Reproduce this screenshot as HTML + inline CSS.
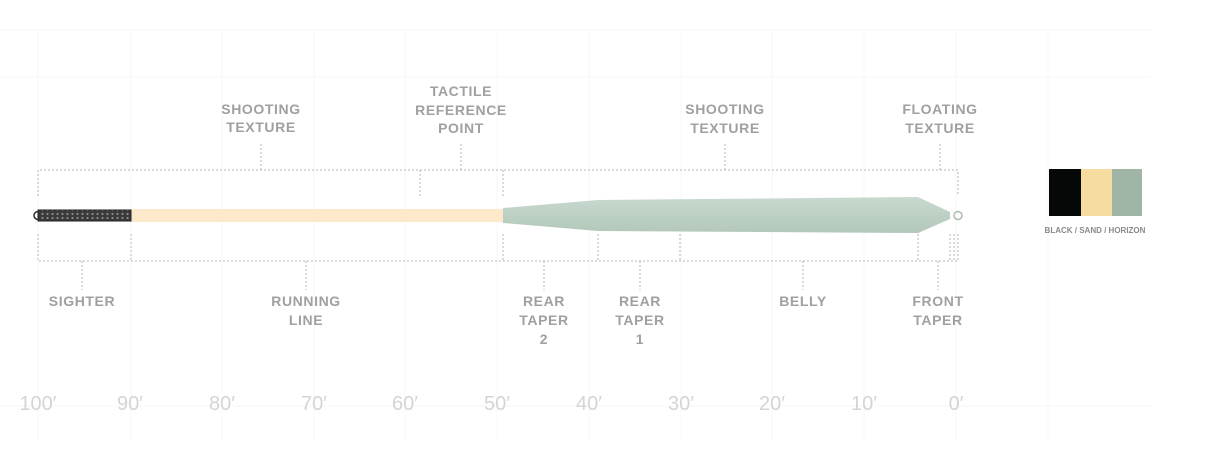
<!DOCTYPE html>
<html><head><meta charset="utf-8"><style>
html,body{margin:0;padding:0;background:#fff;}
svg{display:block;}
.l{font-family:"Liberation Sans",sans-serif;font-size:14px;font-weight:bold;fill:#a0a0a0;letter-spacing:0.6px;text-anchor:middle;}
.a{font-family:"Liberation Sans",sans-serif;font-size:20px;fill:#d4d4d4;text-anchor:middle;}
.d{stroke:#b5b5b5;stroke-width:1;stroke-dasharray:2 2;fill:none;}
.g{stroke:#f7f7f7;stroke-width:1;}
</style></head><body>
<svg width="1214" height="472" viewBox="0 0 1214 472">
<defs>
<pattern id="dots" width="5" height="4" patternUnits="userSpaceOnUse"><rect width="5" height="4" fill="#3a3a3a"/><circle cx="2.5" cy="2" r="1.1" fill="#8a8a8a"/></pattern>
<linearGradient id="sage" x1="0" y1="0" x2="0" y2="1"><stop offset="0" stop-color="#c9d9cf"/><stop offset="0.5" stop-color="#bcd0c4"/><stop offset="1" stop-color="#b3c8bb"/></linearGradient>
</defs>
<g class="g">
<line x1="38" y1="30" x2="38" y2="440"/><line x1="131" y1="30" x2="131" y2="440"/><line x1="222" y1="30" x2="222" y2="440"/><line x1="314" y1="30" x2="314" y2="440"/><line x1="405" y1="30" x2="405" y2="440"/><line x1="497" y1="30" x2="497" y2="440"/><line x1="589" y1="30" x2="589" y2="440"/><line x1="681" y1="30" x2="681" y2="440"/><line x1="772" y1="30" x2="772" y2="440"/><line x1="864" y1="30" x2="864" y2="440"/><line x1="956" y1="30" x2="956" y2="440"/><line x1="1048" y1="30" x2="1048" y2="440"/>
<line x1="0" y1="30" x2="1150" y2="30"/><line x1="0" y1="77" x2="1150" y2="77"/><line x1="0" y1="406" x2="1150" y2="406"/>
</g>
<path class="d" d="M38 196V170H958V196M420 170V196M503 170V196M261 170V143M461 170V143M725 170V143M940 170V143"/>
<path class="d" d="M38 234V261H958V234M131 234V261M503 234V261M598 234V261M680 234V261M918 234V261M950 234V261M954 234V261M82 261V290M306 261V290M544 261V290M640 261V290M803 261V290M938 261V290"/>
<rect x="131" y="209" width="373" height="13" fill="#fbe9c9"/>
<path d="M503 208L598 200L918 197L950 212L950 219L918 233L598 231L503 223Z" fill="url(#sage)"/>
<circle cx="958" cy="215.5" r="4" fill="#fff" stroke="#a9bdb1" stroke-width="1.5"/>
<rect x="38" y="210" width="93" height="11" fill="url(#dots)" stroke="#222" stroke-width="1"/>
<path d="M38 211.5A4 4 0 0 0 38 219.5" fill="none" stroke="#333" stroke-width="1.6"/>
<text class="l" x="261" y="114">SHOOTING</text><text class="l" x="261" y="132">TEXTURE</text>
<text class="l" x="461" y="96">TACTILE</text><text class="l" x="461" y="115">REFERENCE</text><text class="l" x="461" y="133">POINT</text>
<text class="l" x="725" y="114">SHOOTING</text><text class="l" x="725" y="133">TEXTURE</text>
<text class="l" x="940" y="114">FLOATING</text><text class="l" x="940" y="133">TEXTURE</text>
<text class="l" x="82" y="306">SIGHTER</text>
<text class="l" x="306" y="306">RUNNING</text><text class="l" x="306" y="325">LINE</text>
<text class="l" x="544" y="306">REAR</text><text class="l" x="544" y="325">TAPER</text><text class="l" x="544" y="344">2</text>
<text class="l" x="640" y="306">REAR</text><text class="l" x="640" y="325">TAPER</text><text class="l" x="640" y="344">1</text>
<text class="l" x="803" y="306">BELLY</text>
<text class="l" x="938" y="306">FRONT</text><text class="l" x="938" y="325">TAPER</text>
<text class="a" x="38" y="410">100′</text><text class="a" x="130" y="410">90′</text><text class="a" x="222" y="410">80′</text><text class="a" x="314" y="410">70′</text><text class="a" x="405" y="410">60′</text><text class="a" x="497" y="410">50′</text><text class="a" x="589" y="410">40′</text><text class="a" x="681" y="410">30′</text><text class="a" x="772" y="410">20′</text><text class="a" x="864" y="410">10′</text><text class="a" x="956" y="410">0′</text>
<rect x="1049" y="169" width="32" height="47" fill="#060808"/>
<rect x="1081" y="169" width="31" height="47" fill="#f6dd9f"/>
<rect x="1112" y="169" width="30" height="47" fill="#9fb6a6"/>
<text x="1095" y="233" style="font-family:'Liberation Sans',sans-serif;font-size:8px;font-weight:bold;fill:#8a8a8a;text-anchor:middle;">BLACK / SAND / HORIZON</text>
</svg>
</body></html>
